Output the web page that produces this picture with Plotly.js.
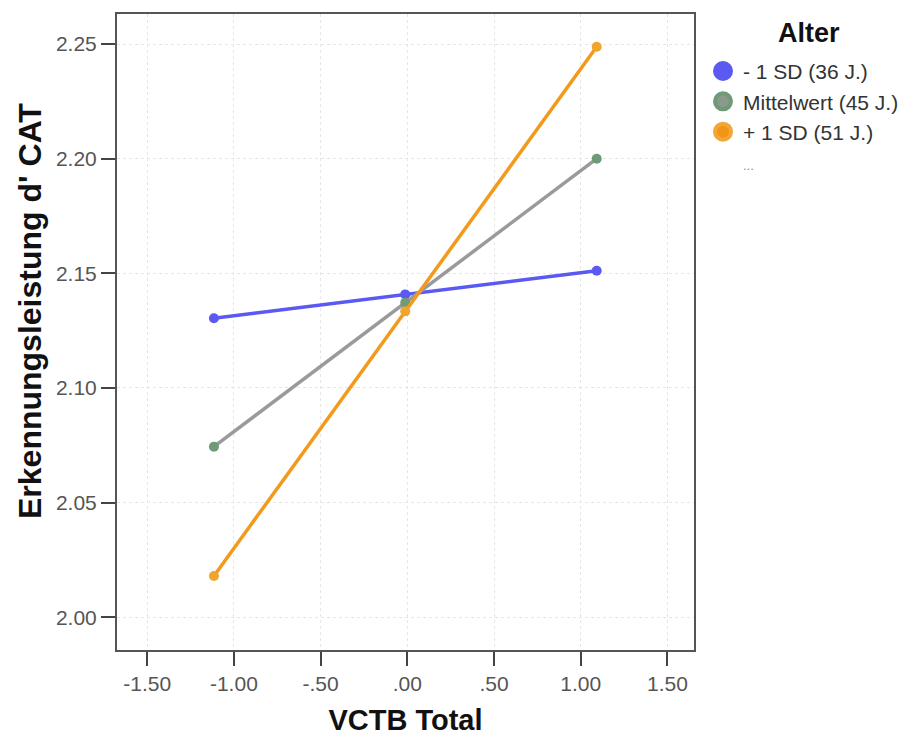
<!DOCTYPE html>
<html>
<head>
<meta charset="utf-8">
<script src="https://cdn.plot.ly/plotly-3.0.1.min.js"></script>
<style>html,body{margin:0;padding:0;background:#fff;}#chart{width:921px;height:737px;}</style>
</head>
<body>
<div id="chart"></div>
<script>
// Data
const seriesNames = ["- 1 SD (36 J.)", "Mittelwert (45 J.)", "+ 1 SD (51 J.)"];
const vctbX = [-1.115, -0.012, 1.092];
const minus1SD = [2.1304, 2.1408, 2.1511];
const meanAge = [2.0744, 2.1372, 2.2000];
const plus1SD = [2.0180, 2.1334, 2.2488];
const xTickVals = [-1.5, -1.0, -0.5, 0, 0.5, 1.0, 1.5];
const xTickText = ["-1.50", "-1.00", "-.50", ".00", ".50", "1.00", "1.50"];
const yTickVals = [2.00, 2.05, 2.10, 2.15, 2.20, 2.25];
const yTickText = ["2.00", "2.05", "2.10", "2.15", "2.20", "2.25"];
const legendTitle = "Alter";
const xTitle = "VCTB Total";
const yTitle = "Erkennungsleistung d' CAT";

const lineColors = ["#5a5af2", "#9a9a9a", "#f29a1c"];
const markerColors = ["#5a5af2", "#6e9a78", "#efa52e"];
const ys = [minus1SD, meanAge, plus1SD];

const FONT = "Liberation Sans, Arial, sans-serif";
const traces = [];
for (let i = 0; i < 3; i++) {
  traces.push({
    type: "scatter", mode: "lines+markers",
    x: vctbX, y: ys[i],
    line: {color: lineColors[i], width: 3.5},
    marker: {color: markerColors[i], size: 10},
    showlegend: false, hoverinfo: "skip"
  });
}
// legend entries
const legendMarkerFill = ["#5a5af2", "#8a9a8a", "#f39418"];
const legendMarkerLine = ["#5a5af2", "#6e9a78", "#f0a838"];
for (let i = 0; i < 3; i++) {
  traces.push({
    type: "scatter", mode: "markers",
    x: [null], y: [null],
    name: seriesNames[i],
    legendgroup: "g" + i,
    marker: {color: legendMarkerFill[i], size: 16, line: {color: legendMarkerLine[i], width: 4}},
    showlegend: true
  });
}
traces.push({
  type: "scatter", mode: "markers",
  x: [null], y: [null],
  name: "<span style='color:#888;font-size:13px'>...</span>",
  legendgroup: "g3",
  marker: {color: "rgba(0,0,0,0)", size: 16},
  showlegend: true
});

const layout = {
  width: 921, height: 737,
  margin: {l: 117, r: 227, t: 14, b: 87, pad: 0},
  paper_bgcolor: "#fff", plot_bgcolor: "#fff",
  font: {family: FONT, size: 21, color: "#444"},
  xaxis: {
    range: [-1.674, 1.653],
    tickvals: xTickVals, ticktext: xTickText,
    ticks: "outside", ticklen: 14, tickwidth: 2, tickcolor: "#444",
    showline: true, mirror: true, linecolor: "#555", linewidth: 2,
    showgrid: true, gridcolor: "#e6e6e6", gridwidth: 1, griddash: "3px,3px",
    zeroline: false,
    tickfont: {family: FONT, size: 21, color: "#555"},
    title: {text: xTitle, font: {family: FONT, size: 29, color: "#111", weight: "bold"}, standoff: 15}
  },
  yaxis: {
    range: [1.9857, 2.2631],
    tickvals: yTickVals, ticktext: yTickText,
    ticks: "outside", ticklen: 14, tickwidth: 2, tickcolor: "#444",
    showline: true, mirror: true, linecolor: "#555", linewidth: 2,
    showgrid: true, gridcolor: "#e6e6e6", gridwidth: 1, griddash: "3px,3px",
    zeroline: false,
    tickfont: {family: FONT, size: 21, color: "#555"}
  },
  legend: {
    x: 1.0156, xanchor: "left", y: 0.942, yanchor: "top",
    font: {family: FONT, size: 21, color: "#333"},
    traceorder: "grouped", tracegroupgap: 0,
    itemwidth: 30, bgcolor: "rgba(0,0,0,0)"
  },
  annotations: [{
    text: "<b>" + legendTitle + "</b>", xref: "paper", yref: "paper",
    x: 1.20, y: 0.97, xanchor: "center", yanchor: "middle", showarrow: false,
    font: {family: FONT, size: 27, color: "#111"}
  }, {
    text: "<b>" + yTitle + "</b>", xref: "paper", yref: "paper",
    x: -0.1508, y: 0.533, xanchor: "center", yanchor: "middle", showarrow: false,
    textangle: -90,
    font: {family: FONT, size: 32, color: "#111"}
  }]
};

Plotly.newPlot("chart", traces, layout, {displayModeBar: false, staticPlot: true});
</script>
</body>
</html>
